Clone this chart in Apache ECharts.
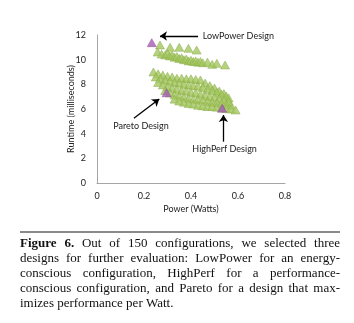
<!DOCTYPE html>
<html>
<head>
<meta charset="utf-8">
<script src="https://cdn.jsdelivr.net/npm/echarts@6.0.0/dist/echarts.min.js"></script>
<style>
  html, body { margin: 0; padding: 0; background: #fff; }
  #chart { width: 354px; height: 323px; }
</style>
</head>
<body>
<div id="chart"></div>
<script>
// upper group of configurations (runtime around 10-11 ms)
const upperX = [0.268, 0.311, 0.350, 0.389, 0.424,
  0.258, 0.275, 0.290, 0.300, 0.310, 0.320, 0.330, 0.340, 0.350, 0.360, 0.370,
  0.380, 0.390, 0.400, 0.410, 0.420, 0.430, 0.440, 0.450, 0.470, 0.490, 0.510, 0.545];
const upperY = [11.19, 11.00, 11.00, 10.92, 10.78,
  10.62, 10.45, 10.38, 10.50, 10.30, 10.35, 10.20, 10.25, 10.10, 10.15, 10.00,
  10.05, 9.90, 9.95, 9.85, 9.90, 9.80, 9.85, 9.75, 9.80, 9.62, 9.70, 9.57];

// lower group of configurations (runtime around 6-9 ms)
const lowerX = [
  0.24, 0.26, 0.28, 0.30, 0.32, 0.34, 0.36, 0.38, 0.40, 0.42, 0.44, 0.46, 0.48, 0.50, 0.52, 0.54,
  0.25, 0.27, 0.29, 0.31, 0.33, 0.35, 0.37, 0.39, 0.41, 0.43, 0.45, 0.47, 0.49, 0.51, 0.53, 0.55, 0.56,
  0.26, 0.28, 0.30, 0.32, 0.34, 0.36, 0.38, 0.40, 0.42, 0.44, 0.46, 0.48, 0.50, 0.52, 0.54, 0.56,
  0.29, 0.31, 0.33, 0.35, 0.37, 0.39, 0.41, 0.43, 0.45, 0.47, 0.49, 0.51, 0.53, 0.55, 0.57,
  0.33, 0.35, 0.37, 0.39, 0.41, 0.43, 0.45, 0.47, 0.49, 0.51, 0.53, 0.55, 0.57, 0.59];
const lowerY = [
  9.00, 8.85, 8.75, 8.65, 8.60, 8.50, 8.50, 8.45, 8.45, 8.40, 8.35, 8.10, 7.90, 7.70, 7.45, 7.25,
  8.60, 8.45, 8.35, 8.25, 8.15, 8.10, 8.00, 7.95, 7.90, 7.85, 7.75, 7.60, 7.50, 7.35, 7.20, 7.05, 6.90,
  8.15, 7.95, 7.80, 7.70, 7.60, 7.50, 7.45, 7.35, 7.30, 7.20, 7.10, 7.00, 6.95, 6.85, 6.75, 6.60,
  7.50, 7.30, 7.15, 7.05, 6.95, 6.85, 6.80, 6.75, 6.70, 6.60, 6.55, 6.50, 6.45, 6.35, 6.30,
  6.80, 6.65, 6.55, 6.45, 6.40, 6.30, 6.25, 6.20, 6.20, 6.15, 6.10, 6.05, 6.00, 5.92];

// the three selected designs
const pickNames = ['LowPower', 'Pareto', 'HighPerf'];
const pickX = [0.233, 0.296, 0.533];
const pickY = [11.38, 7.32, 6.06];

// annotation arrows [fromX, fromY, toX, toY] and labels, in data units
const arrows = [
  [0.43, 11.92, 0.268, 11.92],
  [0.157, 5.25, 0.265, 6.81],
  [0.538, 3.35, 0.538, 5.51]
];
const notes = [
  { text: 'LowPower Design', x: 0.45, y: 11.92, pos: 'right' },
  { text: 'Pareto Design', x: 0.187, y: 4.62, pos: 'inside' },
  { text: 'HighPerf Design', x: 0.543, y: 2.76, pos: 'inside' }
];

const captionLines = [
  'Figure 6. Out of 150 configurations, we selected three',
  'designs for further evaluation: LowPower for an energy-',
  'conscious configuration, HighPerf for a performance-',
  'conscious configuration, and Pareto for a design that max-',
  'imizes performance per Watt.'
];

const green = [], purple = [];
for (let i = 0; i < upperX.length; i++) green.push([upperX[i], upperY[i]]);
for (let i = 0; i < lowerX.length; i++) green.push([lowerX[i], lowerY[i]]);
for (let i = 0; i < pickX.length; i++) purple.push({ name: pickNames[i], value: [pickX[i], pickY[i]] });

// lay out caption words justified between x=20 and x=340
const ctx = document.createElement('canvas').getContext('2d');
const capFont = '13px "Liberation Serif"';
const capBold = 'bold 13px "Liberation Serif"';
const caption = [];
caption.push({ type: 'rect', shape: { x: 20, y: 231, width: 320, height: 2 }, style: { fill: '#8a8a8a' } });
captionLines.forEach((line, li) => {
  const words = line.split(' ');
  const fonts = words.map((w, wi) => (li === 0 && wi < 2) ? capBold : capFont);
  const widths = words.map((w, wi) => { ctx.font = fonts[wi]; return ctx.measureText(w).width; });
  const total = widths.reduce((a, b) => a + b, 0);
  const last = li === captionLines.length - 1;
  const gap = last ? 3.25 : (320 - total) / (words.length - 1);
  let x = 20;
  words.forEach((w, wi) => {
    caption.push({
      type: 'text', x: x, y: 244 + li * 15,
      style: { text: w, font: fonts[wi], fill: '#111', textAlign: 'left', textVerticalAlign: 'middle' }
    });
    x += widths[wi] + gap;
  });
});

const chart = echarts.init(document.getElementById('chart'));
const option = {
  backgroundColor: '#fff',
  animation: false,
  grid: { left: 97, top: 35, width: 188, height: 148 },
  xAxis: {
    type: 'value', min: 0, max: 0.8, interval: 0.2,
    name: 'Power (Watts)', nameLocation: 'middle', nameGap: 22, nameMoveOverlap: false,
    nameTextStyle: { fontFamily: 'Lato', fontSize: 9, color: '#222' },
    axisLine: { lineStyle: { color: '#a6a6a6' } },
    axisTick: { show: false },
    axisLabel: { fontFamily: 'Lato', fontSize: 9, color: '#222', margin: 9 },
    splitLine: { show: false }
  },
  yAxis: {
    type: 'value', min: 0, max: 12, interval: 2,
    name: 'Runtime (milliseconds)', nameLocation: 'middle', nameGap: 21, nameMoveOverlap: false,
    nameTextStyle: { fontFamily: 'Lato', fontSize: 9, color: '#222' },
    axisLine: { show: true, lineStyle: { color: '#a6a6a6' } },
    axisTick: { show: false },
    axisLabel: { fontFamily: 'Lato', fontSize: 9, color: '#222', margin: 11 },
    splitLine: { show: false }
  },
  series: [
    {
      type: 'scatter', data: green, symbol: 'triangle', symbolSize: [9, 8],
      itemStyle: { color: '#a4c75f', borderColor: '#86aa45', borderWidth: 0.6 },
      markLine: {
        silent: true, animation: false,
        symbol: ['none', 'arrow'], symbolSize: 7,
        label: { show: false },
        lineStyle: { color: '#000', width: 1.3, type: 'solid' },
        data: arrows.map(a => [{ coord: [a[0], a[1]] }, { coord: [a[2], a[3]] }])
      },
      markPoint: {
        silent: true, animation: false,
        symbol: 'circle', symbolSize: 0,
        data: notes.map(n => ({
          coord: [n.x, n.y], name: n.text,
          label: { show: true, position: n.pos, distance: 0, formatter: n.text,
            fontFamily: 'Lato', fontSize: 9, color: '#222' }
        }))
      }
    },
    {
      type: 'scatter', data: purple, symbol: 'triangle', symbolSize: [9, 8],
      itemStyle: { color: '#a55bb3', borderColor: '#8e4a9c', borderWidth: 0.6 }
    }
  ],
  graphic: caption
};
chart.setOption(option);
</script>
</body>
</html>
